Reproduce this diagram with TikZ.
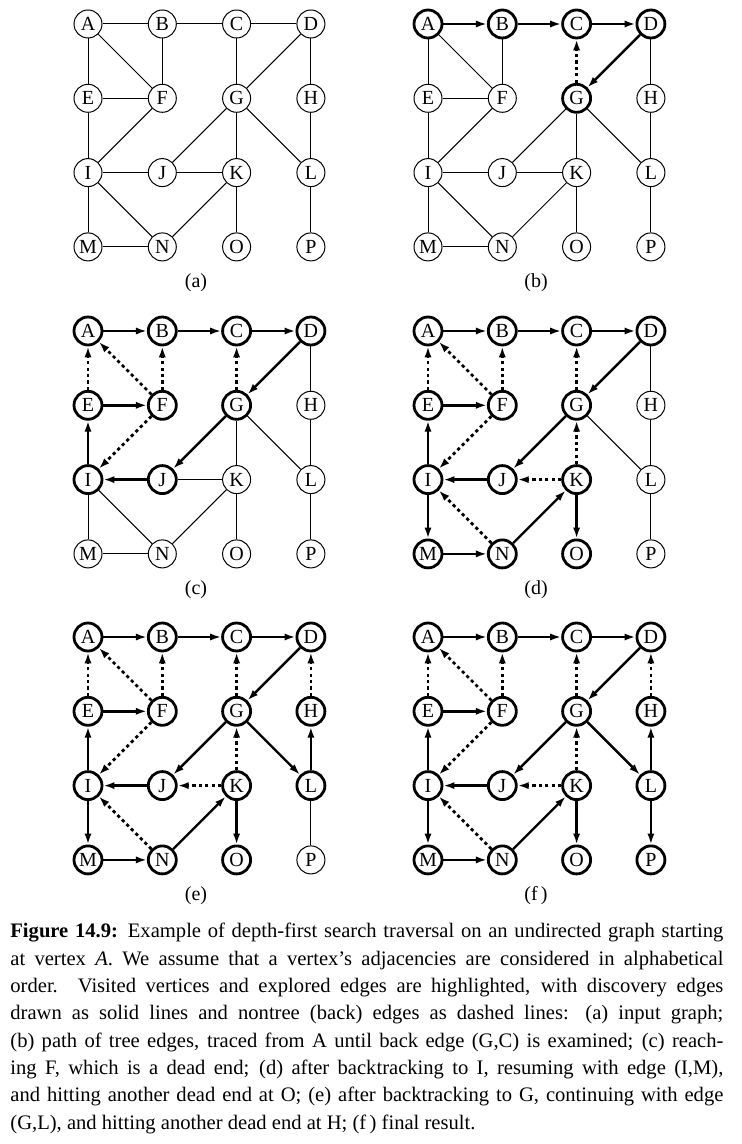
\documentclass[tikz,border=0pt]{standalone}
\usepackage{fontspec}
\setmainfont{Liberation Serif}
\usetikzlibrary{arrows.meta}
\newcommand\capline[1]{\makebox[356.5pt][s]{#1}}
\tikzset{
  vtx/.style={circle, draw, line width=0.5pt, minimum size=14pt, inner sep=0pt,
    font=\fontsize{10}{11}\selectfont},
  vtxseen/.style={vtx, line width=1.4pt},
  thinline/.style={line width=0.5pt},
  treearr/.style={-{Latex[length=5.5pt,width=3.6pt]}, line width=1.2pt},
  backarr/.style={treearr, line width=1.4pt, dash pattern=on 1.6pt off 1.6pt},
  sublabel/.style={font=\fontsize{10}{11}\selectfont},
  captext/.style={align=left, inner sep=0pt, font=\fontsize{10.3}{13.65}\selectfont}
}

\begin{document}
\begin{tikzpicture}[x=0.5pt, y=-0.5pt]
  \useasboundingbox (0,0) rectangle (742,1144);

  % (a) input graph
  \begin{scope}[shift={(88,24)}]
    \foreach \n [count=\i from 0] in {A,...,P}
      \node[vtx] (a\n) at ({mod(\i,4)*74.3},{div(\i,4)*74.3}) {\n};
    \foreach \u/\v in {A/B,B/C,C/D,A/E,A/F,B/F,C/G,D/G,D/H,E/F,E/I,F/I,G/J,G/K,G/L,H/L,I/J,J/K,I/M,I/N,K/N,K/O,L/P,M/N}
      \draw[thinline] (a\u) -- (a\v);
    \node[sublabel] (alab) at (108,259) {(a)};
  \end{scope}

  % (b)
  \begin{scope}[shift={(428,24)}]
    \foreach \n/\s [count=\i from 0] in {A/vtxseen,B/vtxseen,C/vtxseen,D/vtxseen,E/vtx,F/vtx,G/vtxseen,H/vtx,I/vtx,J/vtx,K/vtx,L/vtx,M/vtx,N/vtx,O/vtx,P/vtx}
      \node[\s] (b\n) at ({mod(\i,4)*74.3},{div(\i,4)*74.3}) {\n};
    \foreach \u/\v in {A/E,A/F,B/F,D/H,E/F,E/I,F/I,G/J,G/K,G/L,H/L,I/J,J/K,I/M,I/N,K/N,K/O,L/P,M/N}
      \draw[thinline] (b\u) -- (b\v);
    \foreach \u/\v in {A/B,B/C,C/D,D/G}
      \draw[treearr] (b\u) -- (b\v);
    \draw[backarr] (bG) -- (bC);
    \node[sublabel] (blab) at (108,259) {(b)};
  \end{scope}

  % (c)
  \begin{scope}[shift={(88,331)}]
    \foreach \n/\s [count=\i from 0] in {A/vtxseen,B/vtxseen,C/vtxseen,D/vtxseen,E/vtxseen,F/vtxseen,G/vtxseen,H/vtx,I/vtxseen,J/vtxseen,K/vtx,L/vtx,M/vtx,N/vtx,O/vtx,P/vtx}
      \node[\s] (c\n) at ({mod(\i,4)*74.3},{div(\i,4)*74.3}) {\n};
    \foreach \u/\v in {D/H,G/K,G/L,H/L,J/K,I/M,I/N,K/N,K/O,L/P,M/N}
      \draw[thinline] (c\u) -- (c\v);
    \foreach \u/\v in {A/B,B/C,C/D,D/G,G/J,J/I,I/E,E/F}
      \draw[treearr] (c\u) -- (c\v);
    \foreach \u/\v in {G/C,E/A,F/A,F/B,F/I}
      \draw[backarr] (c\u) -- (c\v);
    \node[sublabel] (clab) at (108,259) {(c)};
  \end{scope}

  % (d)
  \begin{scope}[shift={(428,331)}]
    \foreach \n/\s [count=\i from 0] in {A/vtxseen,B/vtxseen,C/vtxseen,D/vtxseen,E/vtxseen,F/vtxseen,G/vtxseen,H/vtx,I/vtxseen,J/vtxseen,K/vtxseen,L/vtx,M/vtxseen,N/vtxseen,O/vtxseen,P/vtx}
      \node[\s] (d\n) at ({mod(\i,4)*74.3},{div(\i,4)*74.3}) {\n};
    \foreach \u/\v in {D/H,G/L,H/L,L/P}
      \draw[thinline] (d\u) -- (d\v);
    \foreach \u/\v in {A/B,B/C,C/D,D/G,G/J,J/I,I/E,E/F,I/M,M/N,N/K,K/O}
      \draw[treearr] (d\u) -- (d\v);
    \foreach \u/\v in {G/C,E/A,F/A,F/B,F/I,N/I,K/G,K/J}
      \draw[backarr] (d\u) -- (d\v);
    \node[sublabel] (dlab) at (108,259) {(d)};
  \end{scope}

  % (e)
  \begin{scope}[shift={(88,637)}]
    \foreach \n/\s [count=\i from 0] in {A/vtxseen,B/vtxseen,C/vtxseen,D/vtxseen,E/vtxseen,F/vtxseen,G/vtxseen,H/vtxseen,I/vtxseen,J/vtxseen,K/vtxseen,L/vtxseen,M/vtxseen,N/vtxseen,O/vtxseen,P/vtx}
      \node[\s] (e\n) at ({mod(\i,4)*74.3},{div(\i,4)*74.3}) {\n};
    \draw[thinline] (eL) -- (eP);
    \foreach \u/\v in {A/B,B/C,C/D,D/G,G/J,J/I,I/E,E/F,I/M,M/N,N/K,K/O,G/L,L/H}
      \draw[treearr] (e\u) -- (e\v);
    \foreach \u/\v in {G/C,E/A,F/A,F/B,F/I,N/I,K/G,K/J,H/D}
      \draw[backarr] (e\u) -- (e\v);
    \node[sublabel] (elab) at (108,259) {(e)};
  \end{scope}

  % (f) final result
  \begin{scope}[shift={(428,637)}]
    \foreach \n [count=\i from 0] in {A,...,P}
      \node[vtxseen] (f\n) at ({mod(\i,4)*74.3},{div(\i,4)*74.3}) {\n};
    \foreach \u/\v in {A/B,B/C,C/D,D/G,G/J,J/I,I/E,E/F,I/M,M/N,N/K,K/O,G/L,L/H,L/P}
      \draw[treearr] (f\u) -- (f\v);
    \foreach \u/\v in {G/C,E/A,F/A,F/B,F/I,N/I,K/G,K/J,H/D}
      \draw[backarr] (f\u) -- (f\v);
    \node[sublabel] (flab) at (108,259) {(f\,)};
  \end{scope}

  \node[captext, anchor=north west] (cap) at (10,923) {%
    \capline{\textbf{Figure 14.9:} Example of depth-first search traversal on an undirected graph starting}\\
    \capline{at vertex \textit{A}. We assume that a vertex's adjacencies are considered in alphabetical}\\
    \capline{order. Visited vertices and explored edges are highlighted, with discovery edges}\\
    \capline{drawn as solid lines and nontree (back) edges as dashed lines: (a) input graph;}\\
    \capline{(b) path of tree edges, traced from A until back edge (G,C) is examined; (c) reach-}\\
    \capline{ing F, which is a dead end; (d) after backtracking to I, resuming with edge (I,M),}\\
    \capline{and hitting another dead end at O; (e) after backtracking to G, continuing with edge}\\
    (G,L), and hitting another dead end at H; (f\,) final result.};
\end{tikzpicture}
\end{document}
